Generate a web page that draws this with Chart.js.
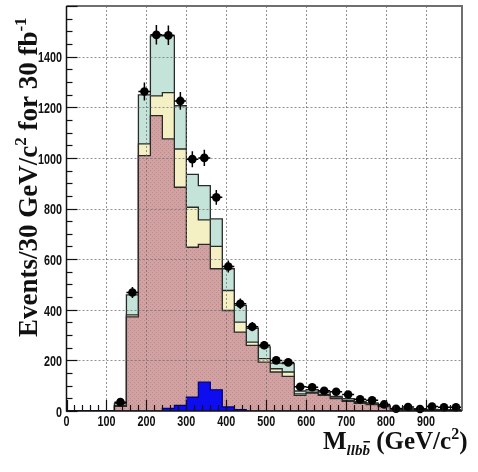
<!DOCTYPE html>
<html>
<head>
<meta charset="utf-8">
<script src="https://cdn.jsdelivr.net/npm/chart.js@4.4.0/dist/chart.umd.min.js"></script>
<style>
  html, body { margin: 0; padding: 0; background: #fff; }
  canvas { display: block; }
</style>
</head>
<body>
<canvas id="mass" width="478" height="472"></canvas>
<script>
// left edges of the 30 GeV/c2 bins
var binEdges = [0, 30, 60, 90, 120, 150, 180, 210, 240, 270, 300, 330, 360, 390, 420, 450, 480,
  510, 540, 570, 600, 630, 660, 690, 720, 750, 780, 810, 840, 870, 900, 930, 960];
var binWidth = 30;

// backgrounds, stacked bottom to top
var redBkg = [0, 0, 0, 0, 18, 372, 1009, 1167, 1075, 884, 647, 658, 562, 397, 312, 259, 193,
  154, 137, 62, 71, 62, 49, 38, 30, 25, 17, 8, 6, 5, 4, 3, 3];
var yellowBkg = [0, 0, 0, 0, 4, 8, 46, 78, 183, 151, 158, 97, 88, 79, 39, 13, 14,
  13, 17, 6, 3, 4, 3, 4, 3, 3, 2, 1, 1, 1, 1, 1, 1];
var tealBkg = [0, 0, 0, 0, 8, 79, 194, 237, 224, 171, 130, 135, 109, 86, 66, 55, 46,
  22, 33, 11, 10, 9, 6, 7, 5, 4, 3, 1, 1, 1, 1, 1, 1];

// signal, drawn on its own from zero
var signal = [0, 0, 0, 0, 0, 0, 0, 0, 10, 22, 55, 114, 84, 16, 6, 0, 0,
  0, 0, 0, 0, 0, 0, 0, 0, 0, 0, 0, 0, 0, 0, 0, 0];

// pseudo-data points
var dataPts = [null, null, null, null, 35, 468, 1262, 1486, 1484, 1225, 995, 1000, 844, 571, 424, 333, 260,
  200, 192, 96, 94, 80, 76, 65, 46, 42, 26, 9, 16, 8, 18, 15, 15];

var xTicks = [0, 100, 200, 300, 400, 500, 600, 700, 800, 900];
var yTicks = [0, 200, 400, 600, 800, 1000, 1200, 1400];

function cumulate() {
  var lists = arguments;
  return binEdges.map(function (e, i) {
    var s = 0;
    for (var k = 0; k < lists.length; k++) s += lists[k][i];
    return s;
  });
}

function steps(vals) {
  var pts = binEdges.map(function (e, i) { return { x: e, y: vals[i] }; });
  pts.push({ x: binEdges[binEdges.length - 1] + binWidth, y: vals[vals.length - 1] });
  return pts;
}

// dotted texture for the red fill
function redPattern() {
  var c = document.createElement("canvas");
  c.width = 4; c.height = 4;
  var g = c.getContext("2d");
  g.fillStyle = "#d2a2a2";
  g.fillRect(0, 0, 4, 4);
  g.fillStyle = "#bb8a8a";
  g.fillRect(0, 0, 1, 1);
  g.fillRect(2, 2, 1, 1);
  return g.createPattern(c, "repeat");
}

var pointData = [];
binEdges.forEach(function (e, i) {
  if (dataPts[i] !== null) pointData.push({ x: e + binWidth / 2, y: dataPts[i] });
});

function drawParts(ctx, parts, x, y) {
  parts.forEach(function (p) {
    ctx.font = p.font;
    ctx.fillText(p.t, x, y + (p.dy || 0));
    var w = ctx.measureText(p.t).width;
    if (p.bar) {
      var bw = ctx.measureText("b").width;
      ctx.fillRect(x + w - bw + 1, y + (p.dy || 0) - 14, bw - 1, 1.5);
    }
    x += w;
  });
  return x;
}

var decor = {
  id: "decor",
  afterDatasetDraw: function (chart, args) {
    if (args.index !== 1) return;
    var ctx = chart.ctx, a = chart.chartArea;
    var xs = chart.scales.x, ys = chart.scales.y;
    ctx.save();
    ctx.strokeStyle = "rgba(110,110,110,0.75)";
    ctx.lineWidth = 1;
    ctx.setLineDash([2, 2]);
    xTicks.slice(1).forEach(function (v) {
      var px = Math.round(xs.getPixelForValue(v)) + 0.5;
      ctx.beginPath(); ctx.moveTo(px, a.top); ctx.lineTo(px, a.bottom); ctx.stroke();
    });
    yTicks.slice(1).forEach(function (v) {
      var py = Math.round(ys.getPixelForValue(v)) + 0.5;
      ctx.beginPath(); ctx.moveTo(a.left, py); ctx.lineTo(a.right, py); ctx.stroke();
    });
    ctx.restore();
  },
  beforeDatasetDraw: function (chart, args) {
    if (args.index !== 0) return;
    var ctx = chart.ctx;
    var xs = chart.scales.x, ys = chart.scales.y;
    ctx.save();
    ctx.strokeStyle = "#000";
    ctx.lineWidth = 1.5;
    binEdges.forEach(function (e, i) {
      var v = dataPts[i];
      if (v === null) return;
      var err = Math.sqrt(v);
      var px = xs.getPixelForValue(e + binWidth / 2);
      ctx.beginPath();
      ctx.moveTo(px, ys.getPixelForValue(v - err));
      ctx.lineTo(px, ys.getPixelForValue(v + err));
      ctx.moveTo(xs.getPixelForValue(e), ys.getPixelForValue(v));
      ctx.lineTo(xs.getPixelForValue(e + binWidth), ys.getPixelForValue(v));
      ctx.stroke();
    });
    ctx.restore();
  },
  afterDraw: function (chart) {
    var ctx = chart.ctx, a = chart.chartArea;
    var xs = chart.scales.x, ys = chart.scales.y;
    ctx.save();

    // frame
    ctx.strokeStyle = "#6f6f6f";
    ctx.lineWidth = 2;
    ctx.beginPath();
    ctx.moveTo(a.left, a.top); ctx.lineTo(a.right, a.top); ctx.lineTo(a.right, a.bottom);
    ctx.stroke();
    ctx.strokeStyle = "#111";
    ctx.lineWidth = 1.5;
    ctx.beginPath();
    ctx.moveTo(a.left, a.top); ctx.lineTo(a.left, a.bottom); ctx.lineTo(a.right, a.bottom);
    ctx.stroke();

    // tick marks, inside the frame
    ctx.lineWidth = 1.2;
    for (var v = 0; v < 990; v += 20) {
      var px = Math.round(xs.getPixelForValue(v)) + 0.5;
      var len = v % 100 === 0 ? 11 : 6;
      ctx.beginPath(); ctx.moveTo(px, a.bottom); ctx.lineTo(px, a.bottom - len); ctx.stroke();
    }
    for (var w = 0; w <= 1600; w += 50) {
      var py = Math.round(ys.getPixelForValue(w)) + 0.5;
      var l2 = w % 200 === 0 ? 11 : 6;
      ctx.beginPath(); ctx.moveTo(a.left, py); ctx.lineTo(a.left + l2, py); ctx.stroke();
    }

    // tick labels, bold and narrow
    ctx.fillStyle = "#111";
    ctx.font = "bold 14px 'Liberation Sans', Arial, sans-serif";
    ctx.textBaseline = "middle";
    ctx.textAlign = "center";
    xTicks.forEach(function (t) {
      ctx.save();
      ctx.translate(xs.getPixelForValue(t), 422);
      ctx.scale(0.77, 1);
      ctx.fillText(String(t), 0, 0);
      ctx.restore();
    });
    ctx.textAlign = "right";
    yTicks.forEach(function (t) {
      ctx.save();
      ctx.translate(62, ys.getPixelForValue(t) + 2);
      ctx.scale(0.77, 1);
      ctx.fillText(String(t), 0, 0);
      ctx.restore();
    });

    // axis titles
    ctx.textAlign = "left";
    ctx.textBaseline = "alphabetic";
    var big = "bold 25px 'Liberation Serif', 'Times New Roman', serif";
    var sub = "italic bold 15px 'Liberation Serif', 'Times New Roman', serif";
    var sup = "bold 16px 'Liberation Serif', 'Times New Roman', serif";
    drawParts(ctx, [
      { t: "M", font: big },
      { t: "llbb", font: sub, dy: 6, bar: true },
      { t: " (GeV/c", font: big },
      { t: "2", font: sup, dy: -10 },
      { t: ")", font: big }
    ], 323, 449);

    ctx.save();
    ctx.translate(37, 337);
    ctx.rotate(-Math.PI / 2);
    var yBig = "bold 27px 'Liberation Serif', 'Times New Roman', serif";
    var ySup = "bold 17px 'Liberation Serif', 'Times New Roman', serif";
    drawParts(ctx, [
      { t: "Events/30 GeV/c", font: yBig },
      { t: "2", font: ySup, dy: -11 },
      { t: " for 30 fb", font: yBig },
      { t: "-1", font: ySup, dy: -11 }
    ], 0, 0);
    ctx.restore();

    ctx.restore();
  }
};

var ctx = document.getElementById("mass").getContext("2d");
var outline = "#2a2a2a";
var massChart = new Chart(ctx, {
  type: "line",
  data: {
    datasets: [{
      label: "Data",
      data: pointData,
      showLine: false,
      pointRadius: 4.3,
      pointBackgroundColor: "#000",
      pointBorderWidth: 0,
      clip: false
    },
    {
      label: "Signal",
      data: steps(signal),
      stepped: true,
      fill: "origin",
      backgroundColor: "#0d0df0",
      borderColor: "#000070",
      borderWidth: 1.2,
      pointRadius: 0
    },
    {
      label: "Red",
      data: steps(redBkg),
      stepped: true,
      fill: "origin",
      backgroundColor: redPattern(),
      borderColor: outline,
      borderWidth: 1.3,
      pointRadius: 0
    },
    {
      label: "Yellow",
      data: steps(cumulate(redBkg, yellowBkg)),
      stepped: true,
      fill: "origin",
      backgroundColor: "#f4f0c4",
      borderColor: outline,
      borderWidth: 1.3,
      pointRadius: 0
    },
    {
      label: "Teal",
      data: steps(cumulate(redBkg, yellowBkg, tealBkg)),
      stepped: true,
      fill: "origin",
      backgroundColor: "#c4e4d9",
      borderColor: outline,
      borderWidth: 1.3,
      pointRadius: 0
    }]
  },
  options: {
    responsive: false,
    animation: false,
    layout: { padding: { top: 6, right: 16, left: 0, bottom: 0 } },
    plugins: {
      legend: { display: false },
      tooltip: { enabled: false }
    },
    scales: {
      x: {
        type: "linear",
        min: 0,
        max: 990,
        afterFit: function (s) { s.height = 61; },
        ticks: { display: false },
        grid: { display: false },
        border: { display: false }
      },
      y: {
        min: 0,
        max: 1600,
        afterFit: function (s) { s.width = 66.5; },
        ticks: { display: false },
        grid: { display: false },
        border: { display: false }
      }
    }
  },
  plugins: [decor]
});
</script>
</body>
</html>
